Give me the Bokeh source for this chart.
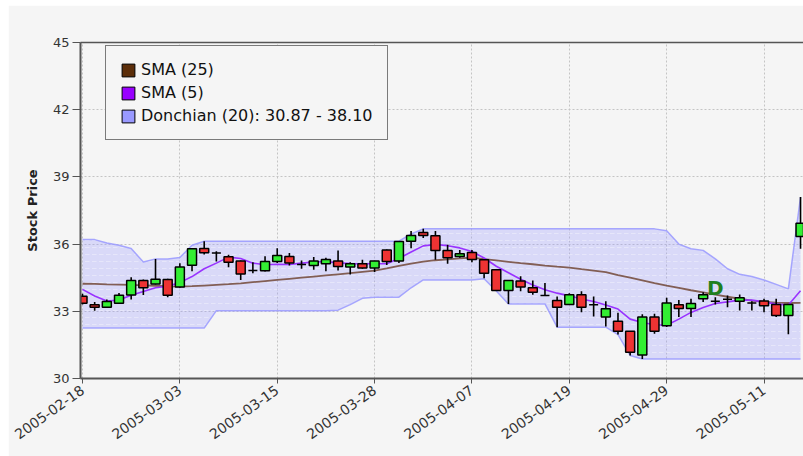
import math
from bokeh.plotting import figure
from bokeh.models import (ColumnDataSource, Range1d, FixedTicker, LinearAxis,
                          Legend, LegendItem)
from bokeh.core.properties import value
from bokeh.embed import file_html
from bokeh.resources import INLINE

# ---------------- data ----------------
dates = ["2005-02-18", "2005-02-22", "2005-02-23", "2005-02-24", "2005-02-25",
         "2005-02-28", "2005-03-01", "2005-03-02", "2005-03-03", "2005-03-04",
         "2005-03-07", "2005-03-08", "2005-03-09", "2005-03-10", "2005-03-11",
         "2005-03-14", "2005-03-15", "2005-03-16", "2005-03-17", "2005-03-18",
         "2005-03-21", "2005-03-22", "2005-03-23", "2005-03-24", "2005-03-28",
         "2005-03-29", "2005-03-30", "2005-03-31", "2005-04-01", "2005-04-04",
         "2005-04-05", "2005-04-06", "2005-04-07", "2005-04-08", "2005-04-11",
         "2005-04-12", "2005-04-13", "2005-04-14", "2005-04-15", "2005-04-18",
         "2005-04-19", "2005-04-20", "2005-04-21", "2005-04-22", "2005-04-25",
         "2005-04-26", "2005-04-27", "2005-04-28", "2005-04-29", "2005-05-02",
         "2005-05-03", "2005-05-04", "2005-05-05", "2005-05-06", "2005-05-09",
         "2005-05-10", "2005-05-11", "2005-05-12", "2005-05-13", "2005-05-16"]

opens = [33.67, 33.29, 33.18, 33.36, 33.73, 34.37, 34.22, 34.42, 34.08, 35.06,
         35.80, 35.60, 35.43, 35.25, 34.82, 34.81, 35.22, 35.45, 35.09, 35.04,
         35.12, 35.25, 34.98, 35.12, 34.93, 35.74, 35.24, 36.13, 36.52, 36.37,
         35.71, 35.45, 35.63, 35.30, 34.85, 33.93, 34.35, 34.05, 33.71, 33.48,
         33.30, 33.74, 33.29, 32.74, 32.56, 32.11, 31.05, 32.74, 32.36, 33.29,
         33.13, 33.56, 33.45, 33.54, 33.45, 33.37, 33.46, 33.30, 32.81, 36.34]
highs = [33.78, 33.41, 33.53, 33.82, 34.52, 34.42, 35.34, 34.45, 35.15, 35.82,
         36.13, 35.68, 35.52, 35.27, 35.19, 35.46, 35.82, 35.60, 35.27, 35.42,
         35.39, 35.71, 35.19, 35.30, 35.26, 35.76, 36.14, 36.58, 36.68, 36.58,
         35.97, 35.74, 35.74, 35.32, 34.87, 34.40, 34.57, 34.38, 34.26, 33.66,
         33.81, 33.90, 33.66, 33.45, 32.93, 32.12, 32.87, 32.89, 33.60, 33.51,
         33.56, 33.85, 33.63, 33.70, 33.75, 33.45, 33.56, 33.56, 33.31, 38.10]
lows = [33.30, 33.03, 33.15, 33.34, 33.53, 33.73, 34.20, 33.63, 34.05, 34.79,
        35.54, 35.22, 34.97, 34.40, 34.70, 34.78, 35.16, 35.04, 34.90, 34.85,
        34.79, 34.82, 34.64, 34.90, 34.75, 35.07, 35.16, 35.82, 36.27, 35.30,
        35.12, 35.39, 35.19, 34.48, 33.91, 33.33, 33.90, 33.74, 33.69, 32.29,
        33.28, 32.96, 32.77, 32.32, 31.96, 31.03, 30.87, 32.00, 32.30, 32.74,
        32.74, 33.41, 33.30, 33.18, 33.04, 33.04, 32.96, 32.74, 31.97, 35.79]
closes = [33.36, 33.18, 33.44, 33.72, 34.37, 34.05, 34.43, 33.72, 34.98, 35.79,
          35.61, 35.60, 35.19, 34.67, 34.82, 35.22, 35.49, 35.16, 35.09, 35.24,
          35.31, 35.00, 35.12, 34.93, 35.24, 35.22, 36.12, 36.38, 36.38, 35.71,
          35.39, 35.57, 35.31, 34.70, 33.93, 34.38, 34.08, 33.85, 33.71, 33.18,
          33.74, 33.18, 33.29, 33.11, 32.11, 31.17, 32.74, 32.11, 33.37, 33.12,
          33.35, 33.74, 33.45, 33.54, 33.60, 33.37, 33.25, 32.81, 33.30, 36.93]

sma5 = [33.98, 33.68, 33.46, 33.50, 33.72, 33.88, 34.05, 34.12, 34.28, 34.55,
        34.90, 35.15, 35.42, 35.36, 35.15, 35.08, 35.10, 35.09, 35.15, 35.20,
        35.22, 35.16, 35.13, 35.12, 35.12, 35.12, 35.36, 35.65, 35.92, 35.98,
        35.93, 35.83, 35.67, 35.38, 35.01, 34.72, 34.43, 34.17, 33.96, 33.81,
        33.69, 33.55, 33.44, 33.28, 33.10, 32.65, 32.50, 32.40, 32.38, 32.65,
        32.95, 33.17, 33.35, 33.42, 33.50, 33.50, 33.42, 33.32, 33.28, 33.92]
sma25 = [34.23, 34.22, 34.20, 34.19, 34.18, 34.16, 34.14, 34.11, 34.10, 34.12,
         34.15, 34.18, 34.21, 34.25, 34.30, 34.35, 34.40, 34.45, 34.50, 34.55,
         34.60, 34.65, 34.70, 34.76, 34.82, 34.92, 35.03, 35.13, 35.22, 35.28,
         35.32, 35.36, 35.40, 35.33, 35.27, 35.21, 35.15, 35.10, 35.04, 34.99,
         34.95, 34.88, 34.82, 34.75, 34.62, 34.50, 34.38, 34.26, 34.15, 34.05,
         33.94, 33.84, 33.74, 33.65, 33.56, 33.48, 33.42, 33.39, 33.37, 33.38]
don_upper = [36.20, 36.20, 36.05, 35.95, 35.80, 35.20, 35.34, 35.34, 35.40, 35.95,
             36.13, 36.13, 36.13, 36.13, 36.13, 36.13, 36.13, 36.13, 36.13, 36.13,
             36.13, 36.13, 36.13, 36.13, 36.13, 36.13, 36.13, 36.45, 36.68, 36.68,
             36.68, 36.68, 36.68, 36.68, 36.68, 36.68, 36.68, 36.68, 36.68, 36.68,
             36.68, 36.68, 36.68, 36.68, 36.68, 36.68, 36.68, 36.68, 36.60, 36.00,
             35.79, 35.72, 35.34, 34.90, 34.65, 34.55, 34.40, 34.20, 34.00, 38.10]
don_lower = [32.25, 32.25, 32.25, 32.25, 32.25, 32.25, 32.25, 32.25, 32.25, 32.25,
             32.25, 33.03, 33.03, 33.03, 33.03, 33.03, 33.03, 33.03, 33.03, 33.03,
             33.03, 33.05, 33.30, 33.58, 33.63, 33.63, 33.63, 34.05, 34.40, 34.40,
             34.40, 34.40, 34.40, 34.45, 33.91, 33.33, 33.33, 33.33, 33.33, 32.29,
             32.29, 32.29, 32.29, 32.29, 31.96, 31.03, 30.87, 30.87, 30.87, 30.87,
             30.87, 30.87, 30.87, 30.87, 30.87, 30.87, 30.87, 30.87, 30.87, 30.87]

y_ticks = [30, 33, 36, 39, 42, 45]
tick_step = 8
signal_dates = ["2005-05-05"]
signal_labels = ["D"]
legend_labels = ["SMA (25)", "SMA (5)", "Donchian (20): 30.87 - 38.10"]

# ---------------- derived columns ----------------
idx = list(range(len(dates)))
body_top = [max(o, c) for o, c in zip(opens, closes)]
body_bot = [min(o, c) for o, c in zip(opens, closes)]
body_col = ["#33ee33" if c > o else ("#ee3333" if c < o else "#000000")
            for o, c in zip(opens, closes)]

src = ColumnDataSource(dict(x=idx, o=opens, h=highs, l=lows, c=closes,
                            top=body_top, bottom=body_bot, color=body_col,
                            sma5=sma5, sma25=sma25, up=don_upper, lo=don_lower))

BG = "#f5f5f5"
AX = "#555555"
FONT = "DejaVu Sans"

p = figure(width=795, height=451, margin=(5, 0, 0, 8),
           x_range=Range1d(-0.164, 59.244), y_range=Range1d(30, 45),
           output_backend="svg", toolbar_location=None,
           min_border_left=72, min_border_right=0, min_border_top=37,
           min_border_bottom=78,
           background_fill_color=BG, border_fill_color=BG,
           outline_line_color=None)

# Donchian band
p.varea(x="x", y1="lo", y2="up", source=src, fill_color="#9999ff",
        fill_alpha=0.30, hatch_pattern="horizontal_dash", hatch_color="white",
        hatch_alpha=0.35, hatch_scale=7, hatch_weight=1)
p.line(x="x", y="up", source=src, line_color="#9999ff", line_width=1.5,
       line_alpha=0.85)
p.line(x="x", y="lo", source=src, line_color="#9999ff", line_width=1.5,
       line_alpha=0.85)

# moving averages
p.line(x="x", y="sma25", source=src, line_color="#6b3f2a", line_width=1.8,
       line_alpha=0.8)
p.line(x="x", y="sma5", source=src, line_color="#9933ff", line_width=1.6)

# candles
p.segment(x0="x", y0="l", x1="x", y1="h", source=src, line_color="black",
          line_width=1.6)
p.vbar(x="x", width=0.74, top="top", bottom="bottom", source=src,
       fill_color="color", line_color="black", line_width=1.5)

# signal label
sig_x = [dates.index(d) for d in signal_dates]
sig_y = [highs[i] + 0.4 for i in sig_x]
p.text(x=sig_x, y=sig_y, text=signal_labels, text_font=value(FONT),
       text_font_style="bold", text_font_size="20px", text_color="#1f7f1f",
       text_align="center", text_baseline="alphabetic")

# grid
p.xgrid.ticker = FixedTicker(ticks=idx[::tick_step])
for g in (p.xgrid[0], p.ygrid[0]):
    g.grid_line_color = "#c4c4c4"
    g.grid_line_dash = "2 2"
    g.grid_line_width = 1

# x axis
xa = p.xaxis[0]
xa.ticker = FixedTicker(ticks=idx[::tick_step])
xa.major_label_overrides = {i: dates[i] for i in idx[::tick_step]}
xa.major_label_orientation = 0.62
xa.major_label_text_font = FONT
xa.major_label_text_font_size = "14px"
xa.major_label_text_color = "#333333"
xa.major_label_standoff = 5
xa.axis_line_color = AX
xa.axis_line_width = 2
xa.major_tick_line_color = AX
xa.major_tick_out = 5
xa.major_tick_in = 0
xa.minor_tick_line_color = None

# y axis
ya = p.yaxis[0]
ya.ticker = FixedTicker(ticks=y_ticks)
ya.axis_label = "Stock Price"
ya.axis_label_text_font = FONT
ya.axis_label_text_font_style = "bold"
ya.axis_label_text_font_size = "13px"
ya.axis_label_text_color = "#222222"
ya.axis_label_standoff = 10
ya.major_label_text_font = FONT
ya.major_label_text_font_size = "13px"
ya.major_label_text_color = "#333333"
ya.major_label_standoff = 3
ya.axis_line_color = AX
ya.axis_line_width = 2
ya.major_tick_line_color = AX
ya.major_tick_out = 8
ya.major_tick_in = 0
ya.minor_tick_line_color = None

# top border line
top_ax = LinearAxis(ticker=FixedTicker(ticks=[]), axis_line_color=AX,
                    axis_line_width=1.5, major_tick_line_color=None,
                    minor_tick_line_color=None)
p.add_layout(top_ax, "above")

# legend
nan = float("nan")
leg_colors = ["#5c2e0a", "#9900ff", "#9999ff"]
items = []
for lab, col in zip(legend_labels, leg_colors):
    r = p.quad(left=[nan], right=[nan], top=[nan], bottom=[nan],
               fill_color=col, line_color="black", line_width=1)
    items.append(LegendItem(label=lab, renderers=[r]))

legend = Legend(items=items, location=(25, 238), margin=0, padding=14,
                spacing=4, glyph_width=16, glyph_height=16, label_height=16,
                label_standoff=5, label_text_font=FONT,
                label_text_font_size="16px", label_text_color="#111111",
                border_line_color="black", border_line_width=1,
                background_fill_color=BG, background_fill_alpha=1.0)
p.add_layout(legend)

open("out.html", "w").write(file_html(p, INLINE))
